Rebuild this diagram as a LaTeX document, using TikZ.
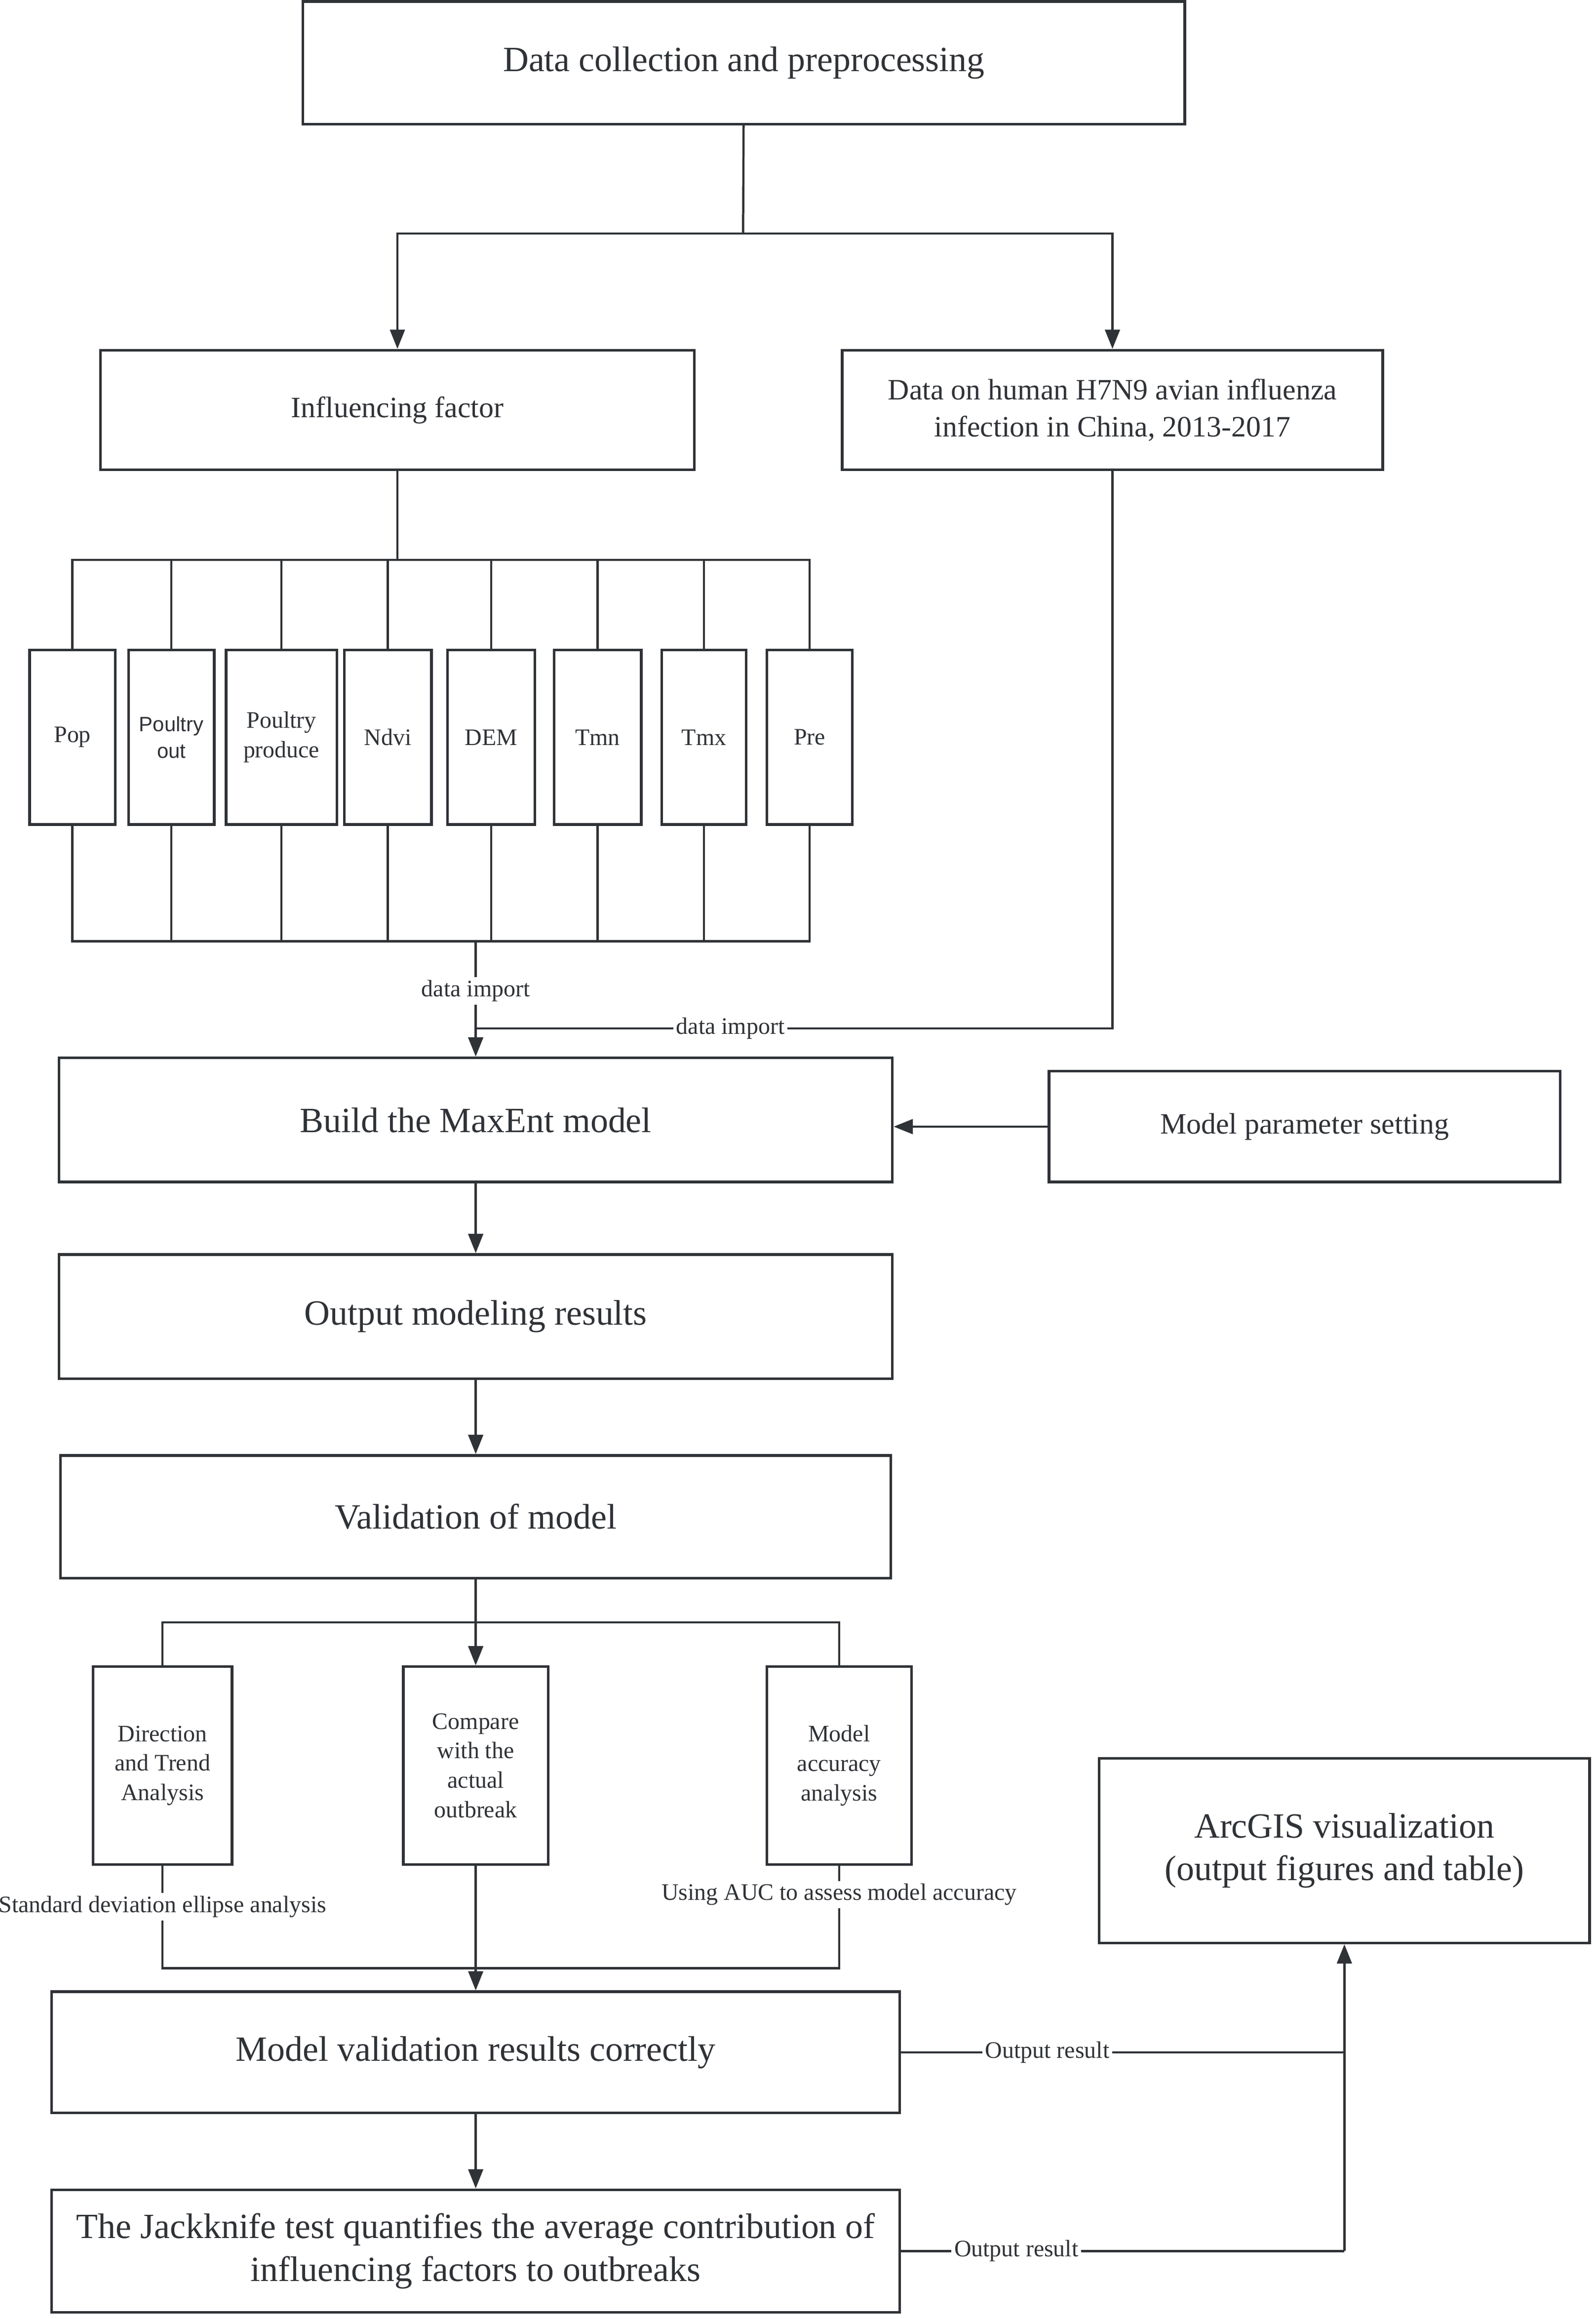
\documentclass[tikz,border=0pt]{standalone}
\usepackage{fontspec}
\setmainfont{Liberation Serif}
\setsansfont{Liberation Sans}
\usetikzlibrary{arrows.meta}
\definecolor{lc}{HTML}{2F3236}

\begin{document}
\begin{tikzpicture}[x=0.5pt, y=-0.5pt,
    box/.style 2 args={draw=lc, line width=0.9pt, text=lc, inner sep=0pt, align=center,
      minimum width=#1*0.5pt, minimum height=#2*0.5pt},
    big/.style={font=\fontsize{12}{14.5}\selectfont},
    mid/.style={font=\fontsize{10}{12.5}\selectfont},
    small/.style={font=\fontsize{8}{10}\selectfont},
    lab/.style={small, text=lc, fill=white, inner sep=1pt},
    link/.style={draw=lc, line width=0.75pt},
    arr/.style={link, -{Triangle[length=6.5pt,width=5pt]}}]

    \useasboundingbox (0,0) rectangle (1080,1569.5);

    % Define nodes
    \node[box={597}{83}, big]  (collect) at (503.5,42.5) {Data collection and preprocessing};
    \node[box={402}{81}, mid]  (factor)  at (269,277.5)  {Influencing factor};
    \node[box={366}{81}, mid]  (human)   at (753,277.5)  {Data on human H7N9 avian influenza\\infection in China, 2013-2017};

    \node[box={58}{118}, small] (pop)      at (49,499)    {Pop};
    \node[box={58}{118}, font=\sffamily\fontsize{7}{9}\selectfont] (pout) at (116,499) {Poultry\\out};
    \node[box={75}{118}, small] (pprod)    at (190.5,499) {Poultry\\produce};
    \node[box={59}{118}, small] (ndvi)     at (262.5,499) {Ndvi};
    \node[box={59}{118}, small] (dem)      at (332.5,499) {DEM};
    \node[box={59}{118}, small] (tmn)      at (404.5,499) {Tmn};
    \node[box={57}{118}, small] (tmx)      at (476.5,499) {Tmx};
    \node[box={58}{118}, small] (pre)      at (548,499)   {Pre};

    \node[box={564}{84}, big]  (build)   at (322,758)    {Build the MaxEnt model};
    \node[box={346}{75}, mid]  (param)   at (883,762.5)  {Model parameter setting};
    \node[box={564}{84}, big]  (outres)  at (322,891)    {Output modeling results};
    \node[box={562}{83}, big]  (valid)   at (322,1026.5) {Validation of model};

    \node[box={94}{134}, small] (dir)    at (110,1195)   {Direction\\and Trend\\Analysis};
    \node[box={98}{134}, small] (comp)   at (322,1195)   {Compare\\with the\\actual\\outbreak};
    \node[box={98}{134}, small] (acc)    at (568,1195)   {Model\\accuracy\\analysis};

    \node[box={574}{82}, big]  (correct) at (322,1389)   {Model validation results correctly};
    \node[box={574}{83}, big]  (jack)    at (322,1523.5) {The Jackknife test quantifies the average contribution of\\influencing factors to outbreaks};
    \node[box={332}{125}, big] (arcgis)  at (910,1252.5) {ArcGIS visualization\\(output figures and table)};

    \coordinate (top)   at (503,158);
    \coordinate (busT)  at (269,379);
    \coordinate (busB)  at (322,637);
    \coordinate (join)  at (322,696);
    \coordinate (vsplit) at (322,1098);
    \coordinate (vjoin) at (322,1332);

    % Connect the nodes
    \draw[link] (collect) -- (top);
    \draw[arr] (top) -| (factor);
    \draw[arr] (top) -| (human);
    \draw[link] (factor) -- (busT);
    \foreach \n in {pop,pout,pprod,ndvi,dem,tmn,tmx,pre} {
      \draw[link] (busT) -| (\n);
      \draw[link] (busB) -| (\n);
    }
    \draw[arr] (busB) -- node[lab, pos=0.43] {data import} (build);
    \draw[link] (human) |- node[lab, pos=0.8] {data import} (join);
    \draw[arr] (param.west) -- (param.west -| build.east);
    \draw[arr] (build) -- (outres);
    \draw[arr] (outres) -- (valid);
    \draw[arr] (valid) -- (comp);
    \draw[link] (dir) |- (vsplit) -| (acc);
    \draw[link] (dir) |- node[lab, pos=0.2] {Standard deviation ellipse analysis} (vjoin);
    \draw[link] (acc) |- node[lab, pos=0.14] {Using AUC to assess model accuracy} (vjoin);
    \draw[arr] (comp) -- (correct);
    \draw[arr] (correct) -- (jack);
    \draw[link] (correct.east) -- node[lab, pos=0.33] {Output result} (correct.east -| arcgis);
    \draw[link] (jack.east) -- node[lab, pos=0.26] {Output result} (jack.east -| arcgis);
    \draw[arr] (jack.east -| arcgis) -- (arcgis);

\end{tikzpicture}
\end{document}
